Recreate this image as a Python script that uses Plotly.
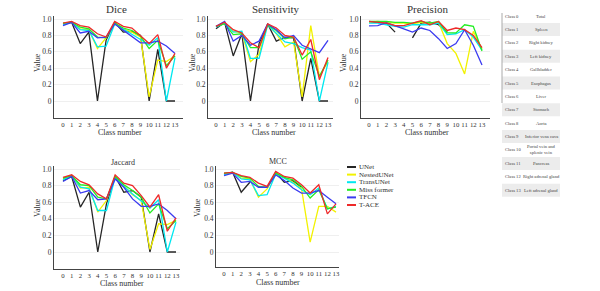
import plotly.graph_objects as go

W, H = 600, 291
classes = list(range(14))
models = ["UNet", "NestedUNet", "TransUNet", "Miss former", "TFCN", "T-ACE"]
colors = ["#262626", "#f2f200", "#00e8f0", "#22ee22", "#3b3bf0", "#ee2a2a"]

dice_unet = [0.94, 0.96, 0.70, 0.84, 0.0, 0.74, 0.96, 0.84, 0.85, 0.80, 0.0, 0.63, 0.0, 0.0]
dice_nested = [0.94, 0.96, 0.88, 0.87, 0.64, 0.77, 0.95, 0.88, 0.84, 0.78, 0.05, 0.50, 0.48, 0.55]
dice_trans = [0.93, 0.96, 0.87, 0.86, 0.66, 0.67, 0.94, 0.88, 0.82, 0.75, 0.68, 0.77, 0.0, 0.53]
dice_miss = [0.95, 0.96, 0.90, 0.88, 0.78, 0.77, 0.95, 0.89, 0.86, 0.79, 0.64, 0.74, 0.43, 0.55]
dice_tfcn = [0.92, 0.96, 0.83, 0.85, 0.77, 0.78, 0.94, 0.86, 0.78, 0.71, 0.71, 0.73, 0.67, 0.58]
dice_tace = [0.95, 0.97, 0.92, 0.90, 0.82, 0.78, 0.97, 0.91, 0.89, 0.80, 0.70, 0.81, 0.40, 0.58]

sens_unet = [0.88, 0.96, 0.55, 0.82, 0.0, 0.70, 0.94, 0.73, 0.78, 0.77, 0.0, 0.52, 0.0, 0.0]
sens_nested = [0.91, 0.95, 0.85, 0.83, 0.48, 0.57, 0.94, 0.82, 0.66, 0.72, 0.05, 0.92, 0.30, 0.48]
sens_trans = [0.90, 0.95, 0.84, 0.85, 0.52, 0.52, 0.93, 0.83, 0.72, 0.70, 0.65, 0.62, 0.0, 0.47]
sens_miss = [0.91, 0.94, 0.81, 0.82, 0.65, 0.65, 0.93, 0.86, 0.76, 0.78, 0.51, 0.60, 0.30, 0.50]
sens_tfcn = [0.91, 0.97, 0.73, 0.80, 0.68, 0.73, 0.94, 0.87, 0.77, 0.80, 0.68, 0.63, 0.59, 0.74]
sens_tace = [0.91, 0.96, 0.87, 0.83, 0.71, 0.65, 0.94, 0.89, 0.80, 0.78, 0.56, 0.75, 0.26, 0.53]

prec_unet = [0.96, 0.96, 0.95, 0.84, None, 0.77, 0.95, 0.96, 0.93, 0.84, None, 0.87, None, None]
prec_nested = [0.96, 0.97, 0.96, 0.95, 0.95, 0.94, 0.96, 0.95, 0.96, 0.70, 0.58, 0.33, 0.85, 0.63]
prec_trans = [0.95, 0.95, 0.93, 0.91, 0.90, 0.93, 0.93, 0.93, 0.95, 0.81, 0.82, 0.87, 0.78, 0.62]
prec_miss = [0.97, 0.97, 0.97, 0.96, 0.96, 0.95, 0.97, 0.95, 0.97, 0.83, 0.83, 0.93, 0.91, 0.61]
prec_tfcn = [0.915, 0.92, 0.955, 0.92, 0.88, 0.84, 0.89, 0.86, 0.76, 0.64, 0.70, 0.87, 0.68, 0.44]
prec_tace = [0.97, 0.96, 0.95, 0.92, 0.92, 0.95, 0.98, 0.93, 0.97, 0.86, 0.89, 0.87, 0.80, 0.65]

jac_unet = [0.86, 0.91, 0.54, 0.72, 0.0, 0.58, 0.91, 0.72, 0.74, 0.66, 0.0, 0.46, 0.0, 0.0]
jac_nested = [0.88, 0.92, 0.77, 0.78, 0.48, 0.62, 0.91, 0.80, 0.69, 0.62, 0.03, 0.34, 0.33, 0.38]
jac_trans = [0.87, 0.92, 0.78, 0.76, 0.50, 0.50, 0.90, 0.79, 0.70, 0.62, 0.53, 0.63, 0.0, 0.36]
jac_miss = [0.89, 0.92, 0.81, 0.80, 0.66, 0.64, 0.91, 0.81, 0.74, 0.66, 0.47, 0.58, 0.28, 0.38]
jac_tfcn = [0.85, 0.91, 0.71, 0.74, 0.63, 0.64, 0.88, 0.78, 0.64, 0.55, 0.55, 0.58, 0.50, 0.40]
jac_tace = [0.90, 0.93, 0.85, 0.81, 0.70, 0.64, 0.93, 0.83, 0.80, 0.68, 0.54, 0.69, 0.25, 0.41]

mcc_unet = [0.94, 0.96, 0.72, 0.84, None, 0.77, 0.96, 0.84, 0.86, 0.78, None, 0.75, None, None]
mcc_nested = [0.94, 0.96, 0.89, 0.88, 0.66, 0.76, 0.95, 0.89, 0.84, 0.76, 0.12, 0.55, 0.55, 0.48]
mcc_trans = [0.93, 0.96, 0.88, 0.87, 0.68, 0.69, 0.94, 0.89, 0.83, 0.75, 0.69, 0.77, 0.52, 0.55]
mcc_miss = [0.95, 0.96, 0.91, 0.89, 0.79, 0.78, 0.95, 0.90, 0.87, 0.79, 0.65, 0.75, 0.52, 0.54]
mcc_tfcn = [0.92, 0.95, 0.84, 0.85, 0.78, 0.78, 0.93, 0.86, 0.77, 0.71, 0.71, 0.74, 0.66, 0.58]
mcc_tace = [0.95, 0.96, 0.92, 0.90, 0.83, 0.79, 0.97, 0.91, 0.89, 0.81, 0.71, 0.81, 0.46, 0.58]

y_ticks = [0, 0.2, 0.4, 0.6, 0.8, 1.0]
y_labels = ["0", "0.2", "0.4", "0.6", "0.8", "1.0"]
organs = ["Total", "Spleen", "Right kidney", "Left kidney", "Gallbladder", "Esophagus", "Liver",
          "Stomach", "Aorta", "Inferior vena cava", "Portal vein and<br>splenic vein", "Pancreas",
          "Right adrenal gland", "Left adrenal gland"]

FONT = "Liberation Serif"

def px(x):
    return x / W

def py(y):
    return 1 - y / H

panels = [
    dict(title="Dice", data=[dice_unet, dice_nested, dice_trans, dice_miss, dice_tfcn, dice_tace],
         box=(54, 183, 16, 118), t=(63, 175, 101, 19), tsize=11, title_xy=(116, 9), cn_xy=(120, 133), val_xy=(37, 63)),
    dict(title="Sensitivity", data=[sens_unet, sens_nested, sens_trans, sens_miss, sens_tfcn, sens_tace],
         box=(208, 333, 16, 118), t=(216, 328, 101, 19), tsize=11, title_xy=(276, 9), cn_xy=(274, 133), val_xy=(192, 63)),
    dict(title="Precision", data=[prec_unet, prec_nested, prec_trans, prec_miss, prec_tfcn, prec_tace],
         box=(361, 490, 16, 118), t=(369, 482, 101, 19), tsize=11, title_xy=(427, 9), cn_xy=(427, 133), val_xy=(343, 63)),
    dict(title="Jaccard", data=[jac_unet, jac_nested, jac_trans, jac_miss, jac_tfcn, jac_tace],
         box=(54, 180, 166, 269), t=(63, 176, 252, 169), tsize=8, title_xy=(123, 162), cn_xy=(122, 283), val_xy=(37, 208)),
    dict(title="MCC", data=[mcc_unet, mcc_nested, mcc_trans, mcc_miss, mcc_tfcn, mcc_tace],
         box=(216, 339, 166, 267), t=(224, 336, 252, 169), tsize=8, title_xy=(278, 161), cn_xy=(278, 282), val_xy=(197, 208)),
]

fig = go.Figure()
layout = dict(width=W, height=H, margin=dict(l=0, r=0, t=0, b=0), paper_bgcolor="white",
              plot_bgcolor="white", showlegend=False, font=dict(family=FONT, color="#333"))
annotations = []
shapes = []

for i, p in enumerate(panels):
    k = "" if i == 0 else str(i + 1)
    x0, x1, yt, yb = p["box"]
    c0, c13, v0, v1 = p["t"]
    dx = (c13 - c0) / 13
    dy = (v0 - v1)
    xr = [(x0 - c0) / dx, 13 + (x1 - c13) / dx]
    yr = [-(yb - v0) / dy, 1 + (v1 - yt) / dy]
    layout["xaxis" + k] = dict(domain=[px(x0), px(x1)], range=xr, anchor="y" + k,
                               tickmode="array", tickvals=classes, ticktext=[str(c) for c in classes],
                               tickangle=0, showgrid=False, zeroline=False, showline=True,
                               linecolor="#444", linewidth=1, ticks="",
                               tickfont=dict(size=6.8, family=FONT, color="#333"), fixedrange=True)
    layout["yaxis" + k] = dict(domain=[py(yb), py(yt)], range=yr, anchor="x" + k,
                               tickmode="array", tickvals=y_ticks, ticktext=y_labels,
                               showgrid=True, gridcolor="#efefef", gridwidth=1, zeroline=False,
                               showline=True, linecolor="#444", linewidth=1, ticks="",
                               tickfont=dict(size=7.5, family=FONT, color="#333"), fixedrange=True)
    for name, col, vals in zip(models, colors, p["data"]):
        fig.add_trace(go.Scatter(x=classes, y=vals, mode="lines", name=name,
                                 line=dict(color=col, width=1.3), xaxis="x" + k, yaxis="y" + k,
                                 connectgaps=False))
    tx, ty = p["title_xy"]
    annotations.append(dict(text=p["title"], x=px(tx), y=py(ty), xref="paper", yref="paper",
                            showarrow=False, xanchor="center", yanchor="middle",
                            font=dict(size=p["tsize"], family=FONT, color="#333")))
    cx, cy = p["cn_xy"]
    annotations.append(dict(text="Class number", x=px(cx), y=py(cy), xref="paper", yref="paper",
                            showarrow=False, xanchor="center", yanchor="middle",
                            font=dict(size=8, family=FONT, color="#333")))
    vx, vy = p["val_xy"]
    annotations.append(dict(text="Value", x=px(vx), y=py(vy), xref="paper", yref="paper",
                            showarrow=False, xanchor="center", yanchor="middle", textangle=-90,
                            font=dict(size=8, family=FONT, color="#333")))

# manual legend next to MCC
for i, (name, col) in enumerate(zip(models, colors)):
    yy = 167 + 7.6 * i
    shapes.append(dict(type="line", xref="paper", yref="paper", x0=px(347), x1=px(356),
                       y0=py(yy), y1=py(yy), line=dict(color=col, width=2)))
    annotations.append(dict(text=name, x=px(357), y=py(yy), xref="paper", yref="paper",
                            showarrow=False, xanchor="left", yanchor="middle",
                            font=dict(size=7, family=FONT, color="#333")))

# class table
shapes.append(dict(type="line", xref="paper", yref="paper", x0=px(502), x1=px(502),
                   y0=py(13), y1=py(103), line=dict(color="#aaa", width=1)))
for i, organ in enumerate(organs):
    yy = 16 + 13.4 * i
    if i % 2 == 1:
        shapes.append(dict(type="rect", xref="paper", yref="paper", x0=px(502), x1=px(560),
                           y0=py(yy + 6.5), y1=py(yy - 6.5), fillcolor="#ececec", line=dict(width=0),
                           layer="below"))
    annotations.append(dict(text="Class %d" % i, x=px(503), y=py(yy), xref="paper", yref="paper",
                            showarrow=False, xanchor="left", yanchor="middle",
                            font=dict(size=4.6, family=FONT, color="#444")))
    annotations.append(dict(text=organ, x=px(541), y=py(yy), xref="paper", yref="paper",
                            showarrow=False, xanchor="center", yanchor="middle",
                            font=dict(size=4.6, family=FONT, color="#444")))

layout["annotations"] = annotations
layout["shapes"] = shapes
fig.update_layout(**layout)
fig.write_html("out.html", config={"displayModeBar": False},
               post_script="document.body.style.margin='0';document.body.style.padding='0';")
